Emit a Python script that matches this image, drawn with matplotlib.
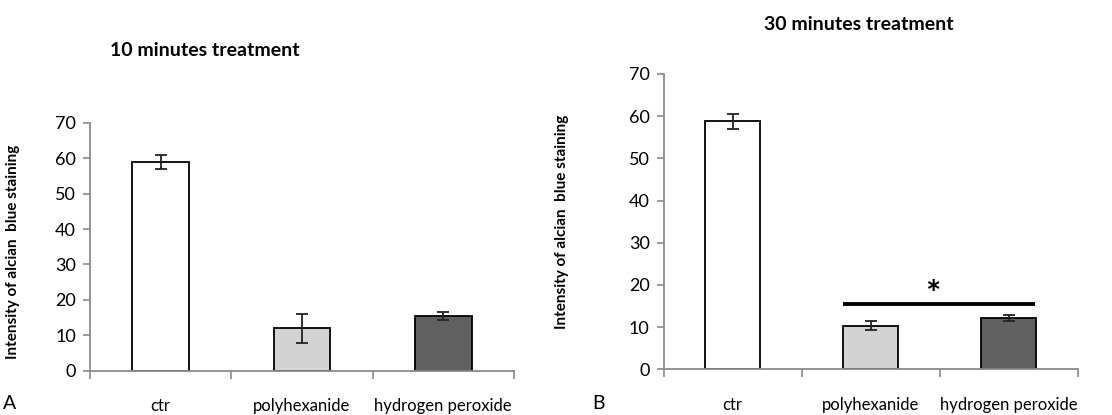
import numpy as np
import matplotlib.pyplot as plt

plt.rcParams['font.family'] = ['Lato', 'DejaVu Sans']

groups = ['ctr', 'polyhexanide', 'hydrogen peroxide']
colors = ['#ffffff', '#d3d3d3', '#606060']

mean_10 = [59.0, 12.0, 15.5]
err_10 = [2.0, 4.1, 1.2]
mean_30 = [58.8, 10.3, 12.2]
err_30 = [1.8, 1.1, 0.7]

fig = plt.figure(figsize=(11.12, 4.15), dpi=100)
ax1 = fig.add_axes([0.0809, 0.1067, 0.3813, 0.5976])
ax2 = fig.add_axes([0.5968, 0.1101, 0.3724, 0.7116])


def draw_panel(ax, means, errs):
    x = np.arange(len(groups))
    ax.bar(x, means, width=0.4, color=colors, edgecolor='black', linewidth=1.3, zorder=2)
    ax.errorbar(x, means, yerr=errs, fmt='none', ecolor='#222222',
                elinewidth=1.3, capsize=4, capthick=1.3, zorder=3)
    ax.set_xlim(-0.5, 2.5)
    ax.set_ylim(0, 70)
    ax.set_yticks(range(0, 71, 10))
    ax.set_xticks([-0.5, 0.5, 1.5, 2.5])
    ax.set_xticklabels([])
    ax.set_xticks(x, minor=True)
    ax.set_xticklabels(groups, minor=True, fontsize=12)
    ax.tick_params(axis='x', which='minor', length=0, pad=20)
    ax.tick_params(axis='x', which='major', length=6, color='#8a8a8a', width=1.2)
    ax.tick_params(axis='y', length=5, color='#8a8a8a', width=1.2, labelsize=13, pad=5)
    for s in ['top', 'right']:
        ax.spines[s].set_visible(False)
    for s in ['left', 'bottom']:
        ax.spines[s].set_color('#8a8a8a')
        ax.spines[s].set_linewidth(1.3)
    ax.set_ylabel('Intensity of alcian  blue staining', fontsize=11, fontweight='bold')


draw_panel(ax1, mean_10, err_10)
draw_panel(ax2, mean_30, err_30)

ax1.yaxis.set_label_coords(-0.165, 0.48)
ax2.yaxis.set_label_coords(-0.228, 0.5)

# significance line in panel B
ax2.plot([0.8, 2.19], [15.5, 15.5], color='black', linewidth=2.8, solid_capstyle='butt')
ax2.text(1.45, 17.6, '*', ha='center', va='center', fontsize=26, fontweight='bold')

fig.text(205 / 1112, 1 - 50 / 415, '10 minutes treatment', ha='center', va='center',
         fontsize=14, fontweight='bold')
fig.text(859 / 1112, 1 - 25 / 415, '30 minutes treatment', ha='center', va='center',
         fontsize=14, fontweight='bold')
fig.text(10 / 1112, 1 - 403 / 415, 'A', ha='center', va='center', fontsize=14)
fig.text(598 / 1112, 1 - 403 / 415, 'B', ha='center', va='center', fontsize=14)

fig.savefig('out.png', dpi=100, facecolor='white')
